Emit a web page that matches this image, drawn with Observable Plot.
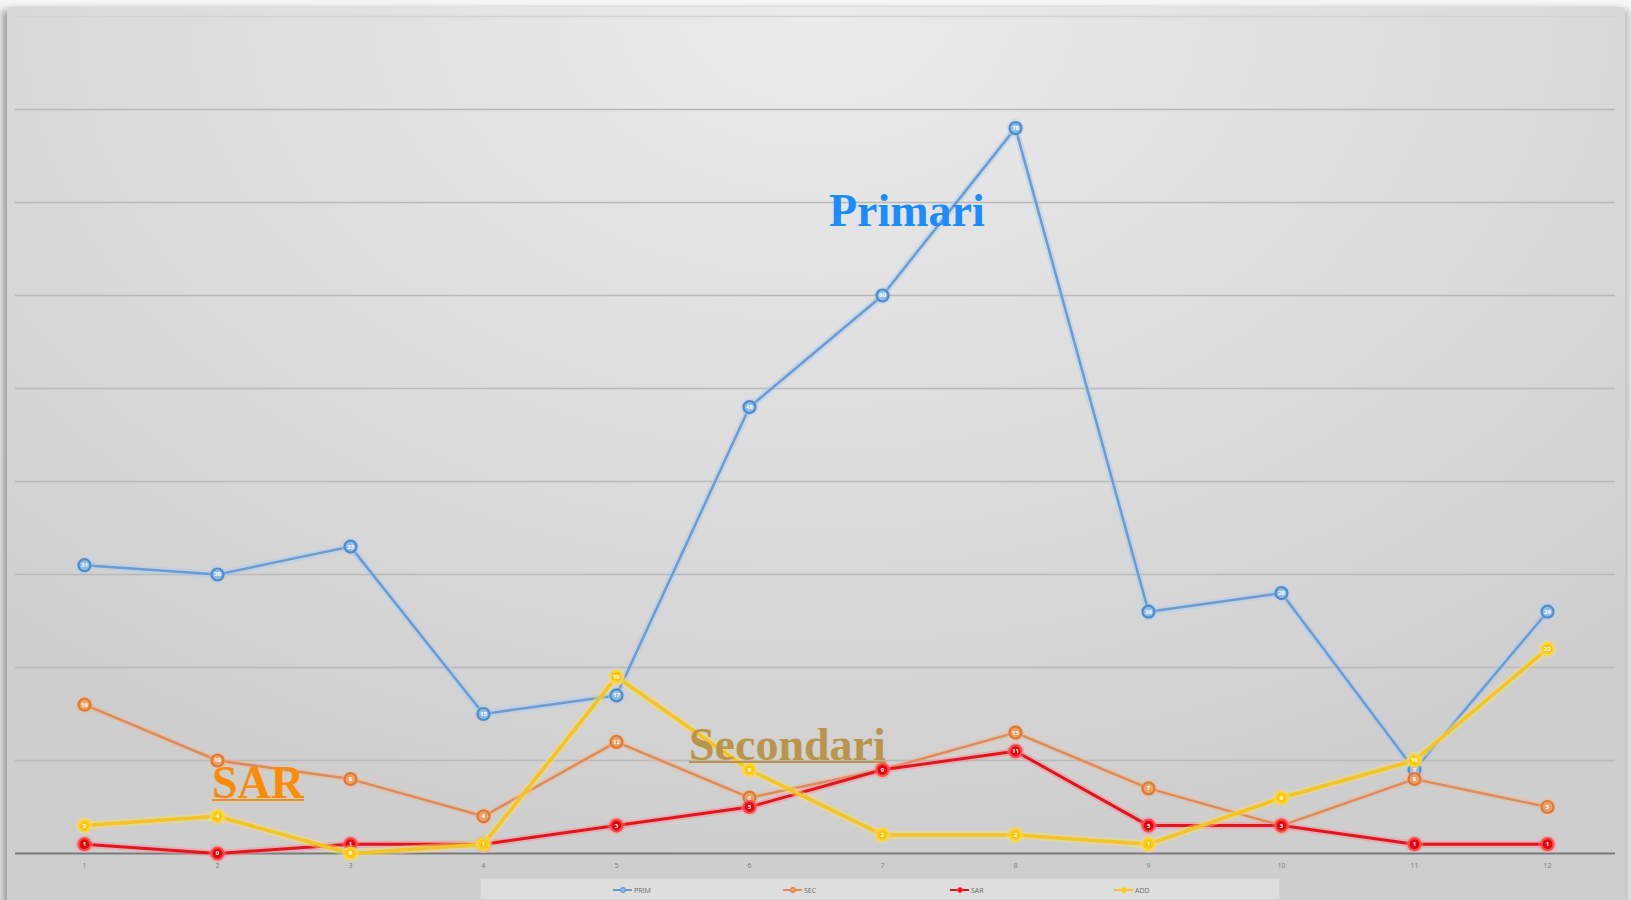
<!DOCTYPE html>
<html>
<head>
<meta charset="utf-8">
<script src="https://cdn.jsdelivr.net/npm/d3@7"></script>
<script src="https://cdn.jsdelivr.net/npm/@observablehq/plot@0.6"></script>
<style>
html,body{margin:0;padding:0;background:#f6f6f6;width:1631px;height:900px;overflow:hidden;}
#frame{position:absolute;left:7px;top:7px;width:1618px;height:900px;
  background:radial-gradient(ellipse 75% 95% at 50% 0%, #ebebeb 0%, #dcdcdc 55%, #cecece 100%);
  box-shadow:-5px 3px 7px rgba(0,0,0,0.35), 5px 3px 7px rgba(0,0,0,0.2);}
#chart{position:absolute;left:0;top:0;}
#legend{position:absolute;left:480px;top:878px;width:800px;height:22px;background:#dedede;
  border:1px solid #d2d2d2;box-sizing:border-box;}
.litem{position:absolute;top:6px;height:10px;display:flex;align-items:center;font:7px "Open Sans",sans-serif;color:#6a6a6a;}
.lsw{position:relative;width:19px;height:10px;margin-right:2px;}
.lsw .ln{position:absolute;left:0;right:0;top:4px;height:2px;}
.lsw .mk{position:absolute;left:7px;top:2px;width:6px;height:6px;border-radius:50%;}
.ann{position:absolute;font-family:"Liberation Serif","Times New Roman",serif;font-weight:bold;font-size:46px;line-height:46px;white-space:nowrap;}
</style>
</head>
<body>
<div id="frame"></div>
<div id="chart"></div>
<div id="legend"></div>
<div class="ann" style="left:829px;top:188px;color:#1a8cff;">Primari</div>
<div class="ann" style="left:689px;top:722px;color:#b8954b;text-decoration:underline;text-decoration-thickness:2px;">Secondari</div>
<div class="ann" style="left:212px;top:760px;color:#ff8c00;text-decoration:underline;text-decoration-thickness:2px;">SAR</div>
<script>
const categories = [1,2,3,4,5,6,7,8,9,10,11,12];
const prim = [31,30,33,15,17,48,60,78,26,28,9,26];
const sec  = [16,10,8,4,12,6,9,13,7,3,8,5];
const sar  = [1,0,1,1,3,5,9,11,3,3,1,1];
const add  = [3,4,0,1,19,9,2,2,1,6,10,22];
const seriesNames = ["PRIM","SEC","SAR","ADD"];
const gridTicks = [10,20,30,40,50,60,70,80];
const topTick = [90];

const seriesValues = [prim, sec, sar, add];
const styles = {
  PRIM:{line:"#6c9bd1", lw:2.5, glow:"#a9cbef", gw:7,  dotFill:"#8fbbe8", dotStroke:"#4f8bc9"},
  SEC: {line:"#d98d5e", lw:2.5, glow:"#f3b68c", gw:6,  dotFill:"#f0a060", dotStroke:"#d9793a"},
  SAR: {line:"#e3141b", lw:3,   glow:"#f28a92", gw:7,  dotFill:"#e8000b", dotStroke:"#ff4a4a"},
  ADD: {line:"#f2c522", lw:3.5, glow:"#f8dc78", gw:8,  dotFill:"#ffc60a", dotStroke:"#f7d548"}
};

const seriesMarks = seriesNames.flatMap((name, si) => {
  const data = categories.map((c, i) => ({month: c, value: seriesValues[si][i]}));
  const s = styles[name];
  return [
    Plot.line(data, {x:"month", y:"value", stroke:s.glow, strokeWidth:s.gw, strokeOpacity:0.45}),
    Plot.line(data, {x:"month", y:"value", stroke:s.line, strokeWidth:s.lw}),
    Plot.dot(data, {x:"month", y:"value", r:9, fill:s.glow, fillOpacity:0.35, stroke:"none"}),
    Plot.dot(data, {x:"month", y:"value", r:6, fill:s.dotFill, stroke:s.dotStroke, strokeWidth:2.2}),
    Plot.text(data, {x:"month", y:"value", text:"value", fill:"white", fontSize:6, fontWeight:"bold"})
  ];
});

const chart = Plot.plot({
  width:1631, height:876,
  marginLeft:15, marginRight:16, marginTop:16, marginBottom:23,
  style:{background:"transparent", fontFamily:"'Open Sans', sans-serif"},
  x:{type:"point", domain:categories, padding:0.5, axis:null},
  y:{domain:[0,90], axis:null},
  marks:[
    Plot.ruleY(topTick, {stroke:"#d2d2d2", strokeWidth:1.5}),
    Plot.ruleY(gridTicks, {stroke:"#b9b9b9", strokeWidth:1.5}),
    Plot.ruleY([0], {stroke:"#7a7a7a", strokeWidth:2}),
    ...seriesMarks,
    Plot.axisX({tickSize:0, tickPadding:10, fontSize:7, fill:"#7a7a7a", label:null})
  ]
});
document.getElementById("chart").appendChild(chart);

const legendPos = [132, 302, 469, 633];
const legend = document.getElementById("legend");
seriesNames.forEach((name, i) => {
  const s = styles[name];
  const item = document.createElement("div");
  item.className = "litem";
  item.style.left = legendPos[i] + "px";
  item.innerHTML = `<div class="lsw"><div class="ln" style="background:${s.line}"></div><div class="mk" style="background:${s.dotFill};border:1px solid ${s.dotStroke};box-sizing:border-box"></div></div><span>${name}</span>`;
  legend.appendChild(item);
});
</script>
</body>
</html>
